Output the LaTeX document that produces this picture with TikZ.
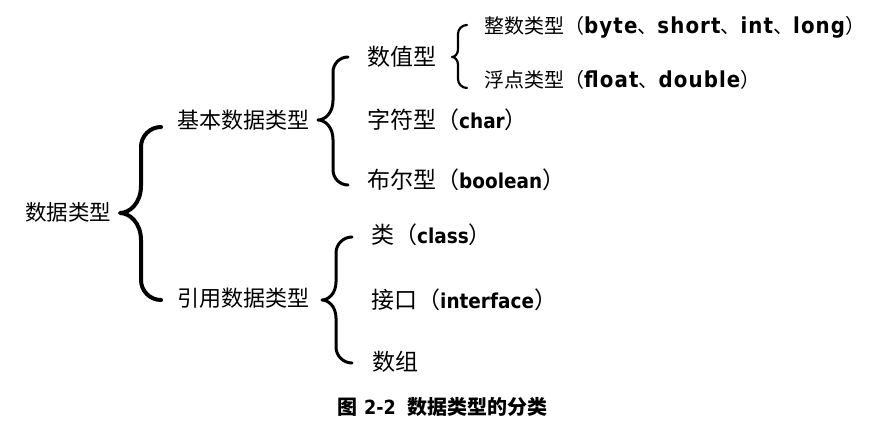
\documentclass[tikz,border=0pt]{standalone}
\usepackage{fontspec}
\setmainfont{DejaVu Sans}
\newfontfamily\zhf{Noto Sans CJK SC}
\newfontfamily\lat{DejaVu Sans}[FakeStretch=0.9]
\def\lsz{18}\def\lsp{0}
\newcommand\la[1]{{\lat\bfseries\fontsize{\lsz}{\lsz}\selectfont\addfontfeature{LetterSpace=\lsp}#1}}
\newcommand\brc[7]{%
\pgfmathsetmacro\ra{#4-#3}\pgfmathsetmacro\rb{1.3*(#3-#2)}%
\draw[bracepen,line width=#1]
(#4,#5) .. controls ({#3+0.45*\ra},#5) and (#3,{#5+0.45*\ra}) .. (#3,{#5+\ra})
-- (#3,{#6-\rb}) .. controls (#3,{#6-0.35*\rb}) and ({#2+0.45*(#3-#2)},#6) .. (#2,#6)
.. controls ({#2+0.45*(#3-#2)},#6) and (#3,{#6+0.35*\rb}) .. (#3,{#6+\rb})
-- (#3,{#7-\ra}) .. controls (#3,{#7-0.45*\ra}) and ({#3+0.45*\ra},#7) .. (#4,#7);}
\tikzset{
 lbl/.style n args={3}{inner sep=0pt,anchor=west,
   font=\fontsize{#1}{#1}\selectfont\zhf\def\lsz{#2}\def\lsp{#3},
   text height={0.88*#1pt},text depth={0.12*#1pt}},
 caplbl/.style n args={2}{inner sep=0pt,anchor=west,
   font=\fontsize{#1}{#1}\selectfont\zhf\bfseries\def\lsz{#2}\def\lsp{0},
   text height={0.88*#1pt},text depth={0.12*#1pt}},
 bracepen/.style={draw=black,line cap=round,line join=round}
}
\begin{document}
\begin{tikzpicture}[x=1pt,y=-1pt]
\useasboundingbox[fill=white] (0,0) rectangle (881,438);
% level 0
\node[lbl={21.5}{20}{0}] (root) at (25,212) {数据类型};
% level 1
\node[lbl={22}{20}{0}] (basic) at (177,120) {基本数据类型};
\node[lbl={22}{20}{0}] (ref) at (177,298) {引用数据类型};
% level 2 basic
\node[lbl={23}{20.5}{0}] (num) at (367,57) {数值型};
\node[lbl={23}{20.5}{0}] (chr) at (367,120) {字符型（\la{char}）};
\node[lbl={23}{20.5}{0}] (bool) at (367,180) {布尔型（\la{boolean}）};
% level 2 reference
\node[lbl={23}{20.5}{0}] (cls) at (371,235) {类（\la{class}）};
\node[lbl={23}{20.5}{0}] (intf) at (371,300) {接口（\la{interface}）};
\node[lbl={23}{20.5}{0}] (arr) at (372,362) {数组};
% level 3
\node[lbl={20}{22}{5}] (int) at (484,26) {整数类型（\la{byte}、\la{short}、\la{int}、\la{long}）};
\node[lbl={20}{22}{5}] (flt) at (484,80) {浮点类型（\la{float}、\la{double}）};
% caption
\node[caplbl={20}{19.5}] (cap) at (337,407) {图\hspace{7pt}\la{2-2}\hspace{12pt}数据类型的分类};
% braces
\brc{4pt}{120}{141}{161}{127}{213}{300}
\brc{3pt}{318}{333}{348}{57}{120}{185}
\brc{2.2pt}{452}{458}{467}{25}{57}{88}
\brc{3pt}{322}{336}{352}{237}{300}{363}
\end{tikzpicture}
\end{document}
